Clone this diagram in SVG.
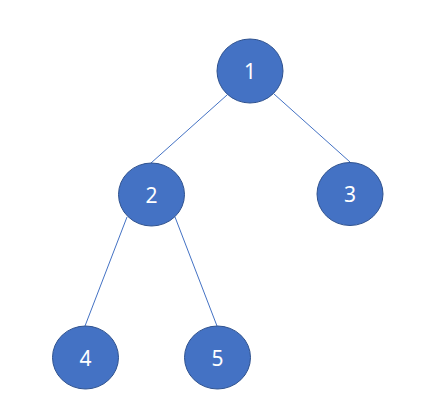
<svg xmlns="http://www.w3.org/2000/svg" width="424" height="419" viewBox="0 0 424 419">
<style>
.n ellipse{fill:#4472C4;stroke:#2F528F;stroke-width:1}
.n text{fill:#FFFFFF;font-family:"Noto Sans","DejaVu Sans",sans-serif;font-size:21px;text-anchor:middle;dominant-baseline:central}
.e line{stroke:#4472C4;stroke-width:1}
</style>
<rect width="424" height="419" fill="#FFFFFF"/>
<g class="e" id="edges">
<line x1="227" y1="95" x2="151" y2="163"/>
<line x1="274" y1="94" x2="350" y2="162"/>
<line x1="127" y1="217" x2="85" y2="326"/>
<line x1="175" y1="217" x2="217" y2="326"/>
</g>
<g class="n" id="node1"><ellipse cx="250" cy="71" rx="33" ry="32"/><text x="250" y="71">1</text></g>
<g class="n" id="node2"><ellipse cx="151.5" cy="194.5" rx="33" ry="31.5"/><text x="151.5" y="194.5">2</text></g>
<g class="n" id="node3"><ellipse cx="350" cy="194" rx="33" ry="31.5"/><text x="350" y="194">3</text></g>
<g class="n" id="node4"><ellipse cx="85.5" cy="357.5" rx="33" ry="31.5"/><text x="85.5" y="357.5">4</text></g>
<g class="n" id="node5"><ellipse cx="217.5" cy="357.5" rx="33" ry="31.5"/><text x="217.5" y="357.5">5</text></g>
</svg>
